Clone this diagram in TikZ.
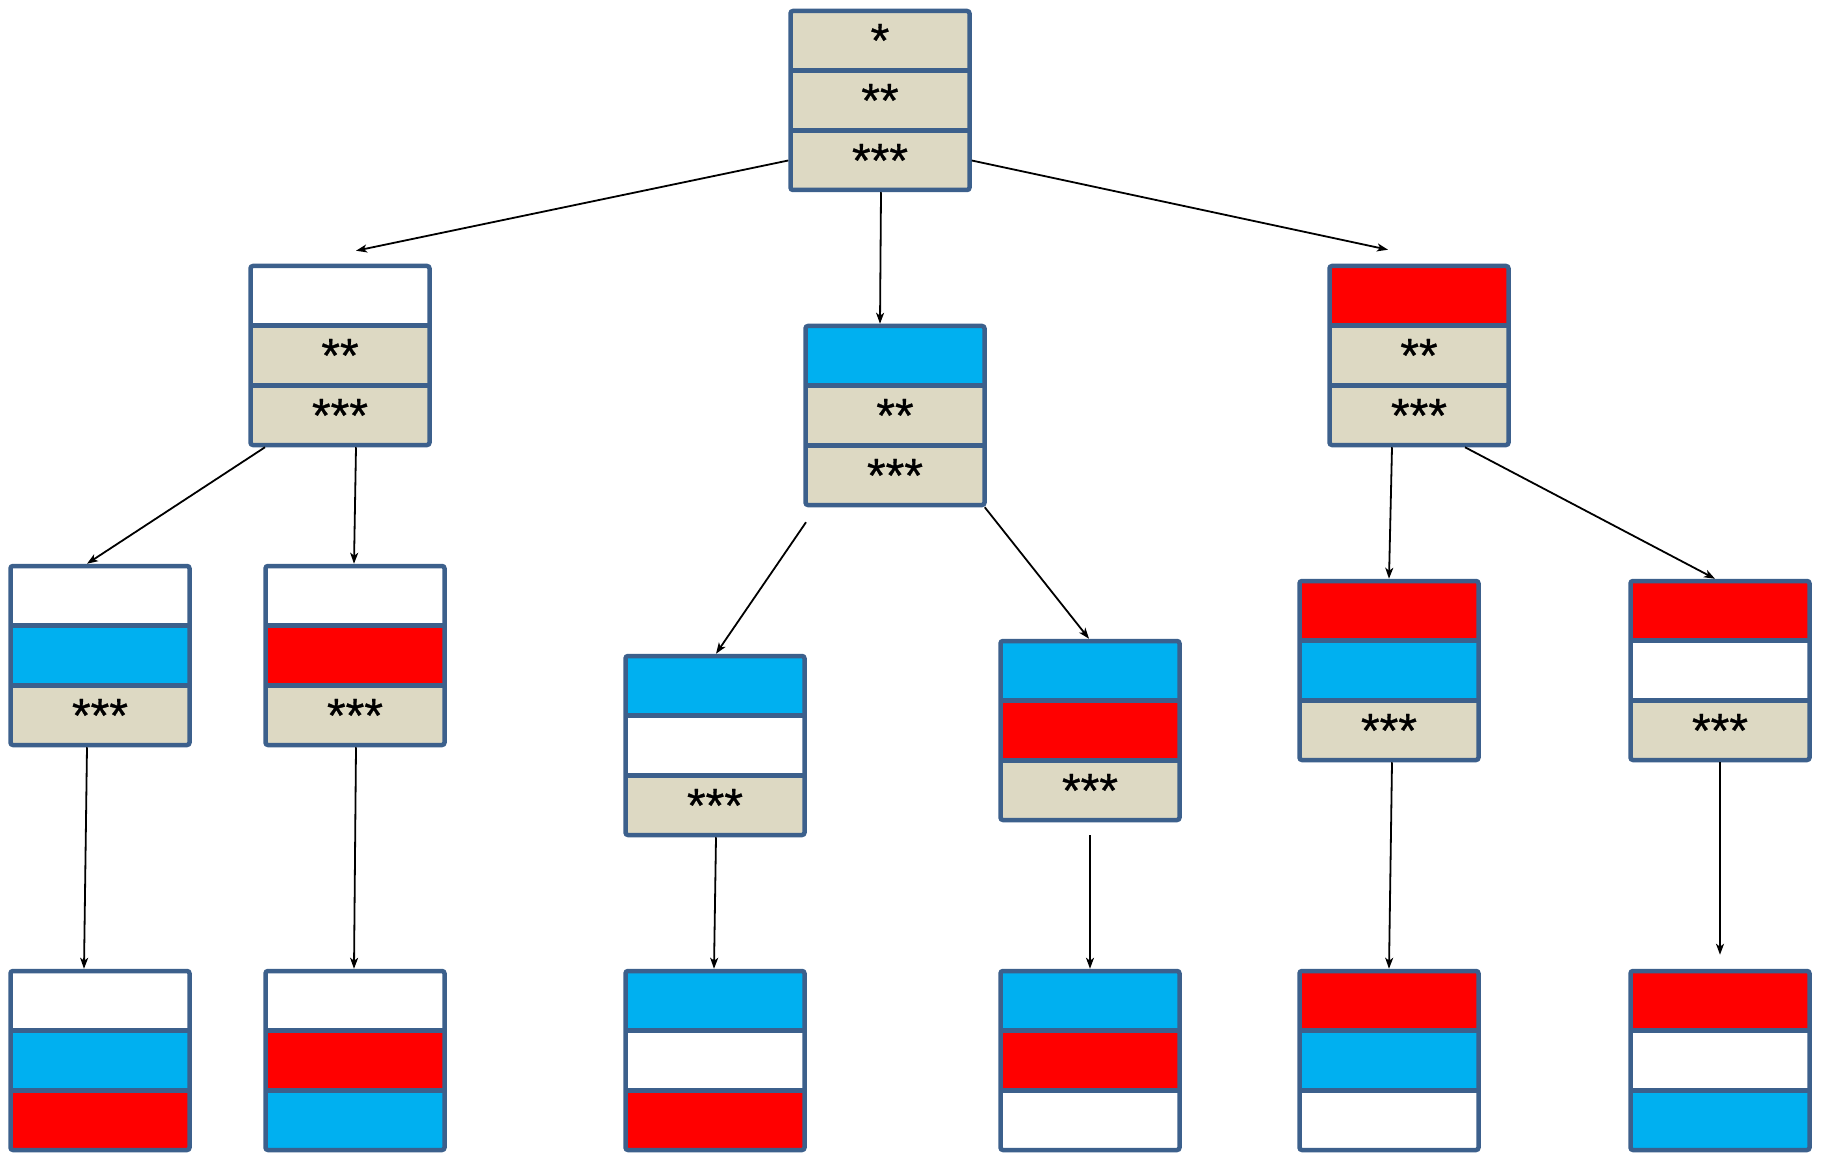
\documentclass[tikz,border=0pt]{standalone}
\usepackage{fontspec}
\setmainfont{Liberation Sans}
\newfontfamily\astfont[FakeBold=0.6]{Liberation Sans}
\usetikzlibrary{arrows.meta}
\definecolor{bord}{RGB}{60,96,140}
\definecolor{beige}{RGB}{221,217,195}
\definecolor{cyanb}{RGB}{0,176,240}
\definecolor{redb}{RGB}{255,0,0}
\tikzset{
  boxst/.style={draw=bord, line width=4.5pt, rounded corners=2.5pt, minimum width=179pt, minimum height=179pt, inner sep=0pt},
  divst/.style={draw=bord, line width=4.5pt},
  txt/.style={anchor=base, inner sep=0pt, font=\astfont\fontsize{48}{56}\selectfont},
  arr/.style={-{Stealth[length=11pt,width=8pt,inset=3pt]}, line width=1.8pt, black, shorten >=0pt}
}
% name, cx, top, colour1, colour2, colour3, text1, text2, text3
\newcommand{\flagbox}[9]{%
  \fill[#4] (#2-89.5,#3+2) rectangle (#2+89.5,#3+61.67);
  \fill[#5] (#2-89.5,#3+61.67) rectangle (#2+89.5,#3+121.33);
  \fill[#6] (#2-89.5,#3+121.33) rectangle (#2+89.5,#3+181);
  \draw[divst] (#2-89.5,#3+61.67) -- (#2+89.5,#3+61.67);
  \draw[divst] (#2-89.5,#3+121.33) -- (#2+89.5,#3+121.33);
  \node[boxst] (#1) at (#2,#3+91.5) {};
  \if\relax\detokenize{#7}\relax\else\node[txt] (#1-a) at (#2,#3+48) {#7};\fi
  \if\relax\detokenize{#8}\relax\else\node[txt] (#1-b) at (#2,#3+108) {#8};\fi
  \if\relax\detokenize{#9}\relax\else\node[txt] (#1-c) at (#2,#3+168) {#9};\fi
}
\begin{document}
\begin{tikzpicture}[x=1pt,y=-1pt]
\useasboundingbox (0,0) rectangle (1826,1155);
\fill[white] (0,0) rectangle (1826,1155);

\flagbox{root}{880}{9}{beige}{beige}{beige}{*}{**}{***}
\flagbox{L}{340}{264}{white}{beige}{beige}{}{**}{***}
\flagbox{M}{895}{324}{cyanb}{beige}{beige}{}{**}{***}
\flagbox{R}{1419}{264}{redb}{beige}{beige}{}{**}{***}
\flagbox{LL}{100}{564}{white}{cyanb}{beige}{}{}{***}
\flagbox{LR}{355}{564}{white}{redb}{beige}{}{}{***}
\flagbox{ML}{715}{654}{cyanb}{white}{beige}{}{}{***}
\flagbox{MR}{1090}{639}{cyanb}{redb}{beige}{}{}{***}
\flagbox{RL}{1389}{579}{redb}{cyanb}{beige}{}{}{***}
\flagbox{RR}{1720}{579}{redb}{white}{beige}{}{}{***}
\flagbox{B1}{100}{969}{white}{cyanb}{redb}{}{}{}
\flagbox{B2}{355}{969}{white}{redb}{cyanb}{}{}{}
\flagbox{B3}{715}{969}{cyanb}{white}{redb}{}{}{}
\flagbox{B4}{1090}{969}{cyanb}{redb}{white}{}{}{}
\flagbox{B5}{1389}{969}{redb}{cyanb}{white}{}{}{}
\flagbox{B6}{1720}{969}{redb}{white}{cyanb}{}{}{}

\draw[arr] ([yshift=-60pt]root.west) -- ([xshift=16pt,yshift=13pt]L.north);
\draw[arr] ([xshift=1pt]root.south) -- ([xshift=-15pt]M.north);
\draw[arr] ([yshift=-60pt]root.east) -- ([xshift=-31pt,yshift=14pt]R.north);
\draw[arr] ([xshift=-75pt]L.south) -- ([xshift=-13pt]LL.north);
\draw[arr] ([xshift=16pt]L.south) -- ([xshift=-1pt]LR.north);
\draw[arr] ([xshift=-89pt,yshift=-15pt]M.south) -- ([xshift=1pt]ML.north);
\draw[arr] ([xshift=-2pt]M.south east) -- ([xshift=-1pt]MR.north);
\draw[arr] ([xshift=-27pt]R.south) -- (RL.north);
\draw[arr] ([xshift=46pt]R.south) -- ([xshift=-5pt]RR.north);
\draw[arr] ([xshift=-13pt]LL.south) -- ([xshift=-16pt]B1.north);
\draw[arr] ([xshift=1pt]LR.south) -- ([xshift=-1pt]B2.north);
\draw[arr] ([xshift=1pt]ML.south) -- ([xshift=-1pt]B3.north);
\draw[arr] ([yshift=-13pt]MR.south) -- (B4.north);
\draw[arr] ([xshift=3pt]RL.south) -- (B5.north);
\draw[arr] (RR.south) -- ([yshift=14pt]B6.north);
\end{tikzpicture}
\end{document}
